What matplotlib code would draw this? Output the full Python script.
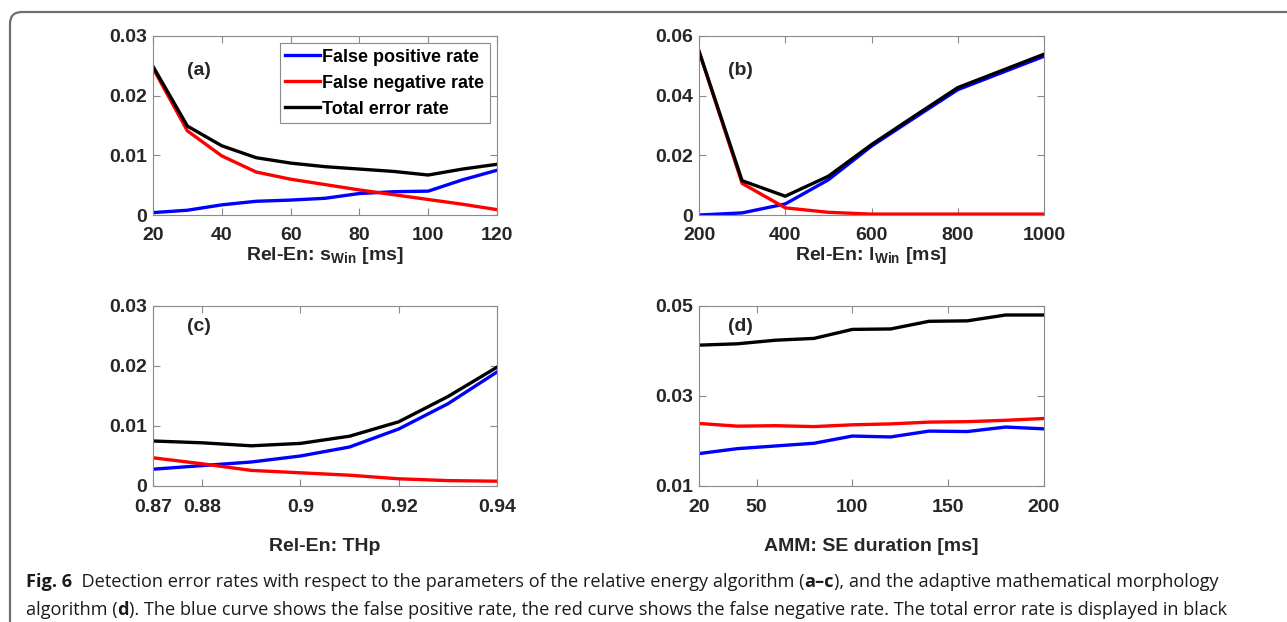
import matplotlib
matplotlib.use("Agg")
import matplotlib.pyplot as plt
from matplotlib.patches import FancyBboxPatch
import numpy as np

# panel (a): Rel-En s_Win
sw_x = [20, 30, 40, 50, 60, 70, 80, 90, 100, 110, 120]
sw_fp = [0.0004, 0.0008, 0.0017, 0.0023, 0.0025, 0.0028, 0.0036, 0.0039, 0.0040, 0.0059, 0.0075]
sw_fn = [0.0246, 0.0141, 0.0099, 0.0072, 0.0060, 0.0051, 0.0042, 0.0034, 0.0026, 0.0018, 0.0009]
sw_tot = [0.0249, 0.0149, 0.0116, 0.0096, 0.0087, 0.0081, 0.0077, 0.0073, 0.0067, 0.0077, 0.0085]

# panel (b): Rel-En l_Win
lw_x = [200, 300, 400, 500, 600, 700, 800, 900, 1000]
lw_fp = [0.0000, 0.0007, 0.0037, 0.0118, 0.0231, 0.0326, 0.0420, 0.0476, 0.0532]
lw_fn = [0.0549, 0.0106, 0.0024, 0.0009, 0.0003, 0.0003, 0.0003, 0.0003, 0.0003]
lw_tot = [0.0549, 0.0115, 0.0063, 0.0130, 0.0236, 0.0332, 0.0427, 0.0483, 0.0539]

# panel (c): Rel-En THp
th_x = [0.87, 0.88, 0.89, 0.90, 0.91, 0.92, 0.93, 0.94]
th_fp = [0.0028, 0.0034, 0.0040, 0.0050, 0.0065, 0.0095, 0.0137, 0.0190]
th_fn = [0.0047, 0.0037, 0.0026, 0.0022, 0.0018, 0.0012, 0.0009, 0.0008]
th_tot = [0.0075, 0.0072, 0.0067, 0.0071, 0.0083, 0.0107, 0.0149, 0.0198]

# panel (d): AMM SE duration
se_x = [20, 40, 60, 80, 100, 120, 140, 160, 180, 200]
se_fp = [0.0172, 0.0183, 0.0189, 0.0195, 0.0211, 0.0209, 0.0222, 0.0221, 0.0231, 0.0227]
se_fn = [0.0239, 0.0233, 0.0234, 0.0232, 0.0236, 0.0238, 0.0242, 0.0243, 0.0246, 0.0250]
se_tot = [0.0413, 0.0416, 0.0424, 0.0428, 0.0448, 0.0449, 0.0466, 0.0467, 0.0480, 0.0480]

legend_labels = ['False positive rate', 'False negative rate', 'Total error rate']

FONT = 'Liberation Sans'
plt.rcParams['font.family'] = [FONT, 'DejaVu Sans']
plt.rcParams['font.weight'] = 'bold'
plt.rcParams['axes.labelweight'] = 'bold'
plt.rcParams['mathtext.fontset'] = 'custom'
plt.rcParams['mathtext.rm'] = FONT + ':bold'
plt.rcParams['mathtext.it'] = FONT + ':bold'
plt.rcParams['mathtext.bf'] = FONT + ':bold'

W, H = 1287, 622
fig = plt.figure(figsize=(W / 100, H / 100), dpi=100)

# background frame
bg = fig.add_axes([0, 0, 1, 1], zorder=-1)
bg.set_xlim(0, W)
bg.set_ylim(H, 0)
bg.axis('off')
bg.add_patch(FancyBboxPatch((10, 12), W + 50, H + 50, boxstyle='round,pad=0,rounding_size=12',
                            fc='white', ec='#6e6e6e', lw=1.6))

def px_axes(left, top, right, bottom):
    return fig.add_axes([left / W, 1 - bottom / H, (right - left) / W, (bottom - top) / H])

tick_col = '#262626'
edge_col = '#8a8a8a'
FS = 14

def style(ax, xticks, xlabels, yticks, ylabels, xlim, ylim):
    ax.set_xlim(*xlim)
    ax.set_ylim(*ylim)
    ax.set_xticks(xticks)
    ax.set_xticklabels(xlabels)
    ax.set_yticks(yticks)
    ax.set_yticklabels(ylabels)
    ax.tick_params(direction='in', length=5, width=0.8, color=edge_col, labelcolor=tick_col,
                   labelsize=FS, top=True, right=True)
    ax.tick_params(axis='x', pad=9)
    ax.tick_params(axis='y', pad=4)
    for s in ax.spines.values():
        s.set_color(edge_col)
        s.set_linewidth(0.8)

def draw(ax, x, fp, fn, tot):
    l1, = ax.plot(x, fp, color='#0000ff', lw=2.4)
    l2, = ax.plot(x, fn, color='#ff0000', lw=2.4)
    l3, = ax.plot(x, tot, color='#000000', lw=2.4)
    return [l1, l2, l3]

# (a)
ax1 = px_axes(153, 36, 497, 215)
hs = draw(ax1, sw_x, sw_fp, sw_fn, sw_tot)
style(ax1, [20, 40, 60, 80, 100, 120], ['20', '40', '60', '80', '100', '120'],
      [0, 0.01, 0.02, 0.03], ['0', '0.01', '0.02', '0.03'], (20, 120), (0, 0.03))
ax1.text(0.10, 0.78, '(a)', transform=ax1.transAxes, fontsize=FS, color=tick_col)
ax1.set_xlabel(r'Rel-En: s$_{\mathrm{Win}}$ [ms]', fontsize=FS, color=tick_col)
ax1.xaxis.set_label_coords(0.5, -0.17)
leg = ax1.legend(hs, legend_labels, loc='upper right', fontsize=13, frameon=True, fancybox=False,
                 edgecolor=edge_col, handlelength=1.9, handletextpad=0.15, labelspacing=0.5,
                 borderpad=0.3, borderaxespad=0.4, framealpha=1)
leg.get_frame().set_linewidth(0.8)

# (b)
ax2 = px_axes(699, 36, 1044, 215)
draw(ax2, lw_x, lw_fp, lw_fn, lw_tot)
style(ax2, [200, 400, 600, 800, 1000], ['200', '400', '600', '800', '1000'],
      [0, 0.02, 0.04, 0.06], ['0', '0.02', '0.04', '0.06'], (200, 1000), (0, 0.06))
ax2.text(0.085, 0.78, '(b)', transform=ax2.transAxes, fontsize=FS, color=tick_col)
ax2.set_xlabel(r'Rel-En: l$_{\mathrm{Win}}$ [ms]', fontsize=FS, color=tick_col)
ax2.xaxis.set_label_coords(0.5, -0.17)

# (c)
ax3 = px_axes(153, 306, 497, 486)
draw(ax3, th_x, th_fp, th_fn, th_tot)
style(ax3, [0.87, 0.88, 0.90, 0.92, 0.94], ['0.87', '0.88', '0.9', '0.92', '0.94'],
      [0, 0.01, 0.02, 0.03], ['0', '0.01', '0.02', '0.03'], (0.87, 0.94), (0, 0.03))
ax3.text(0.10, 0.86, '(c)', transform=ax3.transAxes, fontsize=FS, color=tick_col)
ax3.set_xlabel('Rel-En: THp', fontsize=FS, color=tick_col)
ax3.xaxis.set_label_coords(0.5, -0.29)

# (d)
ax4 = px_axes(699, 306, 1044, 486)
draw(ax4, se_x, se_fp, se_fn, se_tot)
style(ax4, [20, 50, 100, 150, 200], ['20', '50', '100', '150', '200'],
      [0.01, 0.03, 0.05], ['0.01', '0.03', '0.05'], (20, 200), (0.01, 0.05))
ax4.text(0.085, 0.86, '(d)', transform=ax4.transAxes, fontsize=FS, color=tick_col)
ax4.set_xlabel('AMM: SE duration [ms]', fontsize=FS, color=tick_col)
ax4.xaxis.set_label_coords(0.5, -0.29)

# caption
cap_font = ['Open Sans', 'DejaVu Sans']
cap_size = 13.1
line1 = [('Fig. 6', 'bold'),
         ('  Detection error rates with respect to the parameters of the relative energy algorithm (', 'normal'),
         ('a\u2013c', 'bold'),
         ('), and the adaptive mathematical morphology', 'normal')]
line2 = [('algorithm (', 'normal'), ('d', 'bold'),
         ('). The blue curve shows the false positive rate, the red curve shows the false negative rate. '
          'The total error rate is displayed in black', 'normal')]

def write_line(pieces, x, y):
    prev = None
    for txt, wt in pieces:
        if prev is None:
            prev = bg.text(x, y, txt, fontsize=cap_size, fontweight=wt, family=cap_font,
                           color='#1a1a1a', va='baseline', ha='left')
        else:
            prev = bg.annotate(txt, xy=(1, 0), xycoords=prev, fontsize=cap_size, fontweight=wt,
                               family=cap_font, color='#1a1a1a', va='bottom', ha='left')

write_line(line1, 26, 587)
write_line(line2, 26, 615)

fig.savefig('out.png', dpi=100)
